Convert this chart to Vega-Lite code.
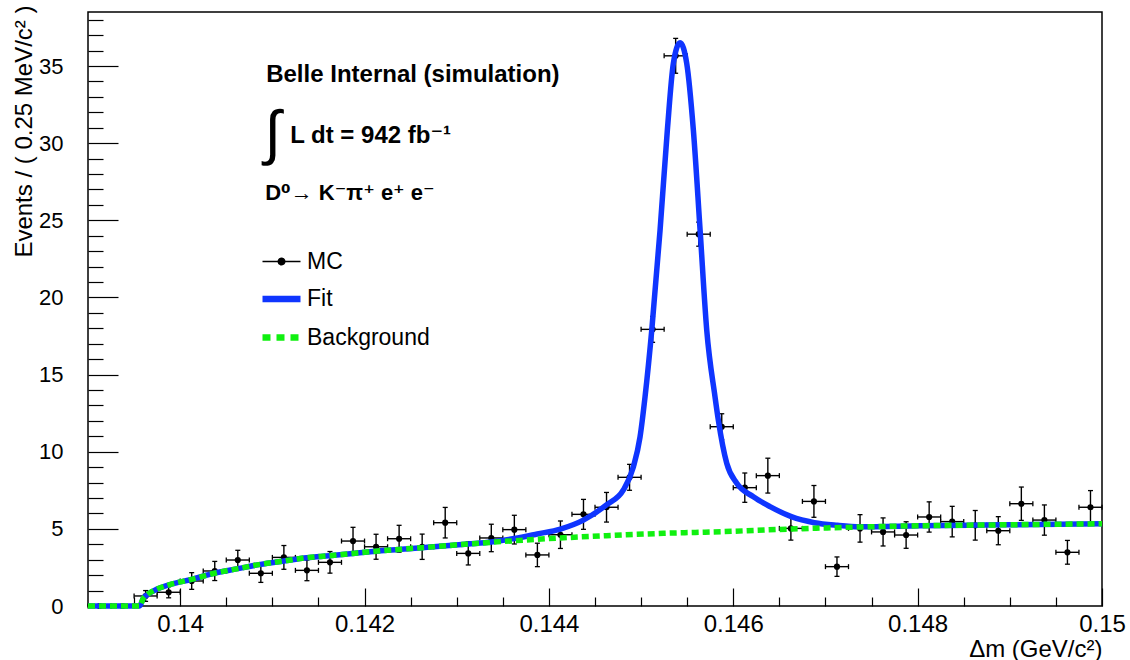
{
  "$schema": "https://vega.github.io/schema/vega-lite/v6.json",
  "width": 1014,
  "height": 594,
  "autosize": "none",
  "padding": {"left": 88, "top": 12, "right": 28, "bottom": 54},
  "background": "white",
  "config": {
    "view": {"stroke": "black", "strokeWidth": 1.5},
    "font": "Liberation Sans",
    "text": {"font": "Liberation Sans, DejaVu Sans", "color": "black"}
  },
  "datasets": {
    "mc": [
      {"x": 0.139125, "x0": 0.139, "x1": 0.13925, "y": 0, "lo": 0, "hi": 0},
      {"x": 0.139375, "x0": 0.13925, "x1": 0.1395, "y": 0, "lo": 0, "hi": 0},
      {"x": 0.139625, "x0": 0.1395, "x1": 0.13975, "y": 0.65, "lo": 0.30, "hi": 1.00},
      {"x": 0.139875, "x0": 0.13975, "x1": 0.14, "y": 0.89, "lo": 0.53, "hi": 1.25},
      {"x": 0.140125, "x0": 0.14, "x1": 0.14025, "y": 1.62, "lo": 1.08, "hi": 2.16},
      {"x": 0.140375, "x0": 0.14025, "x1": 0.1405, "y": 2.27, "lo": 1.65, "hi": 2.89},
      {"x": 0.140625, "x0": 0.1405, "x1": 0.14075, "y": 2.98, "lo": 2.35, "hi": 3.61},
      {"x": 0.140875, "x0": 0.14075, "x1": 0.141, "y": 2.12, "lo": 1.53, "hi": 2.71},
      {"x": 0.141125, "x0": 0.141, "x1": 0.14125, "y": 3.15, "lo": 2.38, "hi": 3.92},
      {"x": 0.141375, "x0": 0.14125, "x1": 0.1415, "y": 2.31, "lo": 1.64, "hi": 2.98},
      {"x": 0.141625, "x0": 0.1415, "x1": 0.14175, "y": 2.83, "lo": 2.13, "hi": 3.53},
      {"x": 0.141875, "x0": 0.14175, "x1": 0.142, "y": 4.21, "lo": 3.32, "hi": 5.10},
      {"x": 0.142125, "x0": 0.142, "x1": 0.14225, "y": 3.84, "lo": 3.03, "hi": 4.65},
      {"x": 0.142375, "x0": 0.14225, "x1": 0.1425, "y": 4.36, "lo": 3.49, "hi": 5.23},
      {"x": 0.142625, "x0": 0.1425, "x1": 0.14275, "y": 3.84, "lo": 3.02, "hi": 4.66},
      {"x": 0.142875, "x0": 0.14275, "x1": 0.143, "y": 5.40, "lo": 4.41, "hi": 6.39},
      {"x": 0.143125, "x0": 0.143, "x1": 0.14325, "y": 3.41, "lo": 2.66, "hi": 4.16},
      {"x": 0.143375, "x0": 0.14325, "x1": 0.1435, "y": 4.41, "lo": 3.52, "hi": 5.30},
      {"x": 0.143625, "x0": 0.1435, "x1": 0.14375, "y": 4.95, "lo": 4.02, "hi": 5.88},
      {"x": 0.143875, "x0": 0.14375, "x1": 0.144, "y": 3.31, "lo": 2.55, "hi": 4.07},
      {"x": 0.144125, "x0": 0.144, "x1": 0.14425, "y": 4.62, "lo": 3.73, "hi": 5.51},
      {"x": 0.144375, "x0": 0.14425, "x1": 0.1445, "y": 5.94, "lo": 4.97, "hi": 6.91},
      {"x": 0.144625, "x0": 0.1445, "x1": 0.14475, "y": 6.40, "lo": 5.44, "hi": 7.36},
      {"x": 0.144875, "x0": 0.14475, "x1": 0.145, "y": 8.34, "lo": 7.50, "hi": 9.18},
      {"x": 0.145125, "x0": 0.145, "x1": 0.14525, "y": 17.93, "lo": 17.09, "hi": 18.77},
      {"x": 0.145375, "x0": 0.14525, "x1": 0.1455, "y": 35.66, "lo": 34.53, "hi": 36.79},
      {"x": 0.145625, "x0": 0.1455, "x1": 0.14575, "y": 24.10, "lo": 23.32, "hi": 24.88},
      {"x": 0.145875, "x0": 0.14575, "x1": 0.146, "y": 11.62, "lo": 10.78, "hi": 12.46},
      {"x": 0.146125, "x0": 0.146, "x1": 0.14625, "y": 7.67, "lo": 6.72, "hi": 8.62},
      {"x": 0.146375, "x0": 0.14625, "x1": 0.1465, "y": 8.45, "lo": 7.32, "hi": 9.58},
      {"x": 0.146625, "x0": 0.1465, "x1": 0.14675, "y": 5.03, "lo": 4.27, "hi": 5.79},
      {"x": 0.146875, "x0": 0.14675, "x1": 0.147, "y": 6.78, "lo": 5.75, "hi": 7.81},
      {"x": 0.147125, "x0": 0.147, "x1": 0.14725, "y": 2.55, "lo": 1.92, "hi": 3.18},
      {"x": 0.147375, "x0": 0.14725, "x1": 0.1475, "y": 5.03, "lo": 4.14, "hi": 5.92},
      {"x": 0.147625, "x0": 0.1475, "x1": 0.14775, "y": 4.80, "lo": 3.89, "hi": 5.71},
      {"x": 0.147875, "x0": 0.14775, "x1": 0.148, "y": 4.60, "lo": 3.74, "hi": 5.46},
      {"x": 0.148125, "x0": 0.148, "x1": 0.14825, "y": 5.77, "lo": 4.79, "hi": 6.75},
      {"x": 0.148375, "x0": 0.14825, "x1": 0.1485, "y": 5.47, "lo": 4.48, "hi": 6.46},
      {"x": 0.148625, "x0": 0.1485, "x1": 0.14875, "y": 5.23, "lo": 4.27, "hi": 6.19},
      {"x": 0.148875, "x0": 0.14875, "x1": 0.149, "y": 4.88, "lo": 3.97, "hi": 5.79},
      {"x": 0.149125, "x0": 0.149, "x1": 0.14925, "y": 6.63, "lo": 5.55, "hi": 7.71},
      {"x": 0.149375, "x0": 0.14925, "x1": 0.1495, "y": 5.57, "lo": 4.59, "hi": 6.55},
      {"x": 0.149625, "x0": 0.1495, "x1": 0.14975, "y": 3.48, "lo": 2.71, "hi": 4.25},
      {"x": 0.149875, "x0": 0.14975, "x1": 0.15, "y": 6.40, "lo": 5.32, "hi": 7.48}
    ],
    "bg": [
      {"x": 0.139, "y": 0}, {"x": 0.13956, "y": 0}, {"x": 0.1396, "y": 0.5},
      {"x": 0.139637, "y": 0.71}, {"x": 0.13975, "y": 1.1}, {"x": 0.139871, "y": 1.36},
      {"x": 0.140125, "y": 1.73}, {"x": 0.14037, "y": 2.12}, {"x": 0.140626, "y": 2.42},
      {"x": 0.140871, "y": 2.70}, {"x": 0.141125, "y": 2.92}, {"x": 0.141374, "y": 3.13},
      {"x": 0.141619, "y": 3.26}, {"x": 0.141873, "y": 3.41}, {"x": 0.142119, "y": 3.55},
      {"x": 0.142622, "y": 3.78}, {"x": 0.143124, "y": 4.02}, {"x": 0.143623, "y": 4.23},
      {"x": 0.144125, "y": 4.41}, {"x": 0.144624, "y": 4.56}, {"x": 0.145242, "y": 4.71},
      {"x": 0.145875, "y": 4.82}, {"x": 0.14663, "y": 4.99}, {"x": 0.147375, "y": 5.12},
      {"x": 0.148026, "y": 5.2}, {"x": 0.148893, "y": 5.26}, {"x": 0.15, "y": 5.33}
    ],
    "fit": [
      {"x": 0.139, "y": 0}, {"x": 0.13956, "y": 0}, {"x": 0.1396, "y": 0.5},
      {"x": 0.139637, "y": 0.71}, {"x": 0.13975, "y": 1.1}, {"x": 0.139871, "y": 1.36},
      {"x": 0.140125, "y": 1.73}, {"x": 0.14037, "y": 2.12}, {"x": 0.140626, "y": 2.42},
      {"x": 0.140871, "y": 2.70}, {"x": 0.141125, "y": 2.92}, {"x": 0.141374, "y": 3.13},
      {"x": 0.141619, "y": 3.26}, {"x": 0.141873, "y": 3.41}, {"x": 0.142119, "y": 3.55},
      {"x": 0.142622, "y": 3.78}, {"x": 0.143124, "y": 4.02}, {"x": 0.143375, "y": 4.15},
      {"x": 0.143623, "y": 4.37}, {"x": 0.143874, "y": 4.67}, {"x": 0.144125, "y": 4.99},
      {"x": 0.144374, "y": 5.57}, {"x": 0.144624, "y": 6.55}, {"x": 0.144808, "y": 7.52},
      {"x": 0.144917, "y": 9.03}, {"x": 0.144989, "y": 10.97}, {"x": 0.145043, "y": 13.56},
      {"x": 0.145116, "y": 17.89}, {"x": 0.145206, "y": 24.37}, {"x": 0.145285, "y": 30.85},
      {"x": 0.14535, "y": 35.17}, {"x": 0.145423, "y": 36.51}, {"x": 0.145495, "y": 35.17},
      {"x": 0.145567, "y": 30.85}, {"x": 0.14564, "y": 24.37}, {"x": 0.145712, "y": 17.89},
      {"x": 0.145802, "y": 13.56}, {"x": 0.145838, "y": 12.05}, {"x": 0.145929, "y": 9.25},
      {"x": 0.146038, "y": 7.95}, {"x": 0.146218, "y": 7.08}, {"x": 0.146399, "y": 6.44},
      {"x": 0.14663, "y": 5.79}, {"x": 0.14688, "y": 5.40}, {"x": 0.147129, "y": 5.23},
      {"x": 0.147375, "y": 5.14}, {"x": 0.148026, "y": 5.2}, {"x": 0.148893, "y": 5.26},
      {"x": 0.15, "y": 5.33}
    ]
  },
  "layer": [
    {
      "layer": [
        {
          "data": {"name": "mc"},
          "mark": {"type": "rule", "color": "black", "strokeWidth": 1.4},
          "encoding": {
            "x": {
              "field": "x", "type": "quantitative",
              "scale": {"domain": [0.139, 0.15], "nice": false, "zero": false},
              "axis": {
                "values": [0.14, 0.142, 0.144, 0.146, 0.148, 0.15],
                "format": ".3~f",
                "orient": "bottom",
                "tickSize": -18, "tickWidth": 1.2, "tickColor": "black",
                "domain": false, "grid": false,
                "labelPadding": 24, "labelFontSize": 24, "labelColor": "black",
                "labelFont": "Liberation Sans", "labelFlush": false,
                "title": "Δm (GeV/c²)", "titleFontSize": 24, "titleFontWeight": "normal",
                "titleFont": "Liberation Sans", "titleColor": "black",
                "titleAnchor": "end", "titleAlign": "right", "titleBaseline": "alphabetic",
                "titleX": 1014, "titleY": 50
              }
            },
            "y": {
              "field": "lo", "type": "quantitative",
              "scale": {"domain": [0, 38.5], "nice": false, "zero": false},
              "axis": {
                "values": [0, 5, 10, 15, 20, 25, 30, 35],
                "orient": "left",
                "tickSize": -30, "tickWidth": 1.2, "tickColor": "black",
                "domain": false, "grid": false,
                "labelPadding": 55, "labelFontSize": 22, "labelColor": "black",
                "labelFont": "Liberation Sans", "labelFlush": false,
                "title": "Events / ( 0.25 MeV/c² )", "titleFontSize": 24, "titleFontWeight": "normal",
                "titleFont": "Liberation Sans", "titleColor": "black",
                "titleAnchor": "end", "titleAngle": -90, "titleAlign": "right", "titleBaseline": "alphabetic",
                "titleX": -57, "titleY": -7
              }
            },
            "y2": {"field": "hi"}
          }
        },
        {
          "data": {"name": "mc"},
          "mark": {"type": "rule", "color": "black", "strokeWidth": 1.4},
          "encoding": {
            "x": {"field": "x0", "type": "quantitative"},
            "x2": {"field": "x1"},
            "y": {"field": "y", "type": "quantitative"}
          }
        },
        {
          "data": {"name": "mc"},
          "mark": {"type": "tick", "orient": "horizontal", "size": 5, "thickness": 1.3, "color": "black", "opacity": 1},
          "encoding": {
            "x": {"field": "x", "type": "quantitative"},
            "y": {"field": "hi", "type": "quantitative"}
          }
        },
        {
          "data": {"name": "mc"},
          "mark": {"type": "tick", "orient": "horizontal", "size": 5, "thickness": 1.3, "color": "black", "opacity": 1},
          "encoding": {
            "x": {"field": "x", "type": "quantitative"},
            "y": {"field": "lo", "type": "quantitative"}
          }
        },
        {
          "data": {"name": "mc"},
          "mark": {"type": "tick", "orient": "vertical", "size": 5, "thickness": 1.3, "color": "black", "opacity": 1},
          "encoding": {
            "x": {"field": "x0", "type": "quantitative"},
            "y": {"field": "y", "type": "quantitative"}
          }
        },
        {
          "data": {"name": "mc"},
          "mark": {"type": "tick", "orient": "vertical", "size": 5, "thickness": 1.3, "color": "black", "opacity": 1},
          "encoding": {
            "x": {"field": "x1", "type": "quantitative"},
            "y": {"field": "y", "type": "quantitative"}
          }
        },
        {
          "data": {"name": "mc"},
          "mark": {"type": "circle", "size": 38, "opacity": 1},
          "encoding": {
            "x": {"field": "x", "type": "quantitative"},
            "y": {"field": "y", "type": "quantitative"},
            "color": {
              "datum": "MC",
              "scale": {"domain": ["MC", "Fit", "Background"], "range": ["black", "#0f35ff", "#10f010"]},
              "legend": {
                "title": null,
                "orient": "none",
                "legendX": 182,
                "legendY": 238,
                "padding": 0,
                "symbolType": "stroke",
                "symbolSize": 1444,
                "symbolStrokeWidth": 4,
                "symbolOpacity": 1,
                "labelFontSize": 23,
                "labelFont": "Liberation Sans",
                "labelColor": "black",
                "labelOffset": 14,
                "labelLimit": 300,
                "rowPadding": 11.5,
                "encode": {
                  "symbols": {
                    "update": {
                      "shape": {"signal": "datum.value === 'MC' ? 'M-1,0H1M-0.17,0A0.17,0.17,0,1,1,0.17,0A0.17,0.17,0,1,1,-0.17,0Z' : 'stroke'"},
                      "fill": {"signal": "datum.value === 'MC' ? 'black' : 'transparent'"},
                      "stroke": {"signal": "datum.value === 'MC' ? 'black' : (datum.value === 'Fit' ? '#0f35ff' : '#10f010')"},
                      "strokeWidth": {"signal": "datum.value === 'MC' ? 1.5 : 6.5"},
                      "strokeDash": {"signal": "datum.value === 'Background' ? [8, 6] : [1, 0]"},
                      "opacity": {"value": 1}
                    }
                  }
                }
              }
            }
          }
        },
        {
          "data": {"name": "fit"},
          "mark": {"type": "line", "strokeWidth": 5.5, "interpolate": "monotone"},
          "encoding": {
            "x": {"field": "x", "type": "quantitative"},
            "y": {"field": "y", "type": "quantitative"},
            "color": {"datum": "Fit"}
          }
        },
        {
          "data": {"name": "bg"},
          "mark": {"type": "line", "strokeWidth": 5.5, "interpolate": "monotone", "strokeDash": [7, 4]},
          "encoding": {
            "x": {"field": "x", "type": "quantitative"},
            "y": {"field": "y", "type": "quantitative"},
            "color": {"datum": "Background"}
          }
        },
        {
          "data": {"values": [{}]},
          "mark": {"type": "text", "text": "Belle Internal (simulation)", "fontSize": 24, "fontWeight": "bold", "align": "left", "baseline": "middle"},
          "encoding": {
            "x": {"datum": 0.140933, "type": "quantitative"},
            "y": {"datum": 34.41, "type": "quantitative"}
          }
        },
        {
          "data": {"values": [{}]},
          "mark": {"type": "text", "text": "∫", "fontSize": 60, "align": "left", "baseline": "middle"},
          "encoding": {
            "x": {"datum": 0.140915, "type": "quantitative"},
            "y": {"datum": 30.52, "type": "quantitative"}
          }
        },
        {
          "data": {"values": [{}]},
          "mark": {"type": "text", "text": "L dt = 942 fb⁻¹", "fontSize": 24, "fontWeight": "bold", "align": "left", "baseline": "middle"},
          "encoding": {
            "x": {"datum": 0.141193, "type": "quantitative"},
            "y": {"datum": 30.45, "type": "quantitative"}
          }
        },
        {
          "data": {"values": [{}]},
          "mark": {"type": "text", "text": "D⁰→ K⁻π⁺ e⁺ e⁻", "fontSize": 22, "fontWeight": "bold", "align": "left", "baseline": "middle"},
          "encoding": {
            "x": {"datum": 0.140922, "type": "quantitative"},
            "y": {"datum": 26.75, "type": "quantitative"}
          }
        }
      ]
    },
    {
      "data": {"name": "mc"},
      "mark": {"type": "point", "opacity": 0},
      "encoding": {
        "x": {
          "field": "x", "type": "quantitative",
          "axis": {
            "orient": "bottom",
            "values": [0.1395, 0.1405, 0.141, 0.1415, 0.1425, 0.143, 0.1435, 0.1445, 0.145, 0.1455, 0.1465, 0.147, 0.1475, 0.1485, 0.149, 0.1495],
            "labels": false, "domain": false, "grid": false, "title": null,
            "tickSize": -9, "tickWidth": 1.2, "tickColor": "black"
          }
        },
        "y": {
          "field": "y", "type": "quantitative",
          "axis": {
            "orient": "left",
            "values": [1, 2, 3, 4, 6, 7, 8, 9, 11, 12, 13, 14, 16, 17, 18, 19, 21, 22, 23, 24, 26, 27, 28, 29, 31, 32, 33, 34, 36, 37, 38],
            "labels": false, "domain": false, "grid": false, "title": null,
            "tickSize": -15, "tickWidth": 1.2, "tickColor": "black"
          }
        }
      }
    }
  ],
  "resolve": {"axis": {"x": "independent", "y": "independent"}}
}
